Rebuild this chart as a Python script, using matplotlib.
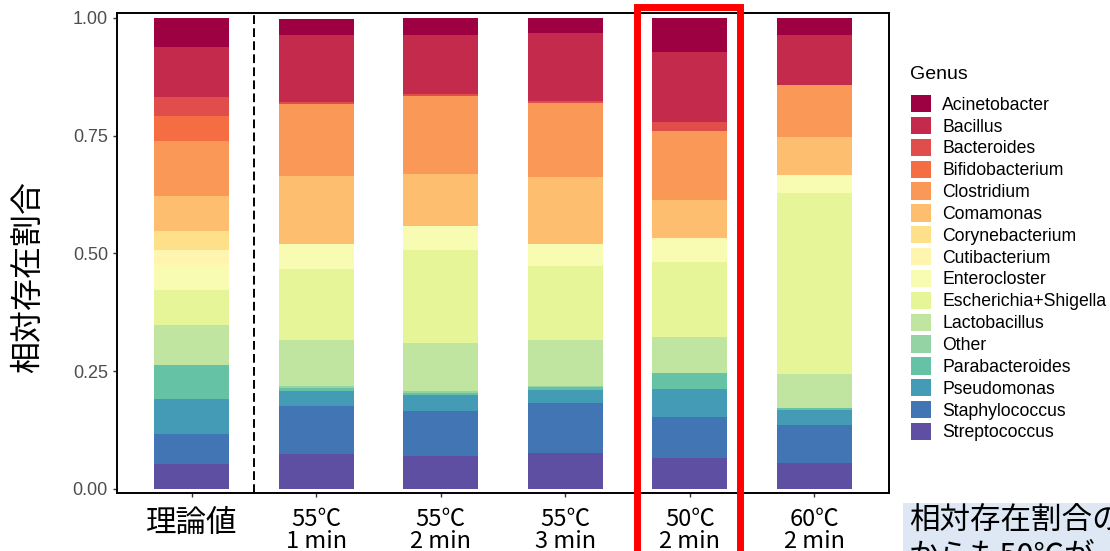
import matplotlib
matplotlib.use("Agg")
import matplotlib.pyplot as plt
from matplotlib.patches import Patch, Rectangle
from matplotlib.transforms import blended_transform_factory
import numpy as np

# genus order = legend order (top of stack first)
genera = ["Acinetobacter", "Bacillus", "Bacteroides", "Bifidobacterium",
          "Clostridium", "Comamonas", "Corynebacterium", "Cutibacterium",
          "Enterocloster", "Escherichia+Shigella", "Lactobacillus", "Other",
          "Parabacteroides", "Pseudomonas", "Staphylococcus", "Streptococcus"]

samples = ["理論値", "55℃\n1 min", "55℃\n2 min", "55℃\n3 min", "50℃\n2 min", "60℃\n2 min"]

# relative abundance per sample, same order as genera
theory = [0.062, 0.106, 0.040, 0.053, 0.117, 0.074, 0.041, 0.032,
          0.053, 0.0745, 0.085, 0.0, 0.072, 0.074, 0.064, 0.053]
t55_1 = [0.034, 0.142, 0.005, 0.0, 0.152, 0.145, 0.0, 0.0,
         0.053, 0.151, 0.097, 0.005, 0.006, 0.032, 0.102, 0.074]
t55_2 = [0.037, 0.125, 0.003, 0.0, 0.167, 0.109, 0.0, 0.0,
         0.051, 0.199, 0.102, 0.004, 0.003, 0.034, 0.096, 0.070]
t55_3 = [0.032, 0.145, 0.003, 0.0, 0.158, 0.142, 0.0, 0.0,
         0.047, 0.157, 0.097, 0.003, 0.006, 0.027, 0.107, 0.076]
t50_2 = [0.072, 0.149, 0.019, 0.0, 0.146, 0.081, 0.0, 0.004,
         0.047, 0.159, 0.077, 0.0, 0.034, 0.059, 0.087, 0.066]
t60_2 = [0.036, 0.106, 0.0, 0.0, 0.111, 0.080, 0.0, 0.0,
         0.039, 0.384, 0.072, 0.0, 0.004, 0.032, 0.081, 0.055]

colors = ["#9E0142", "#C32A4B", "#DF4E4B", "#F46D43", "#FA9857", "#FDBF6F",
          "#FEE08B", "#FFF5AE", "#F7FCB2", "#E6F598", "#BFE5A0", "#94D4A4",
          "#66C2A5", "#439BB5", "#4175B4", "#5E4FA2"]

data = np.array([theory, t55_1, t55_2, t55_3, t50_2, t60_2])  # samples x genera
x = np.arange(1, len(samples) + 1)

fig = plt.figure(figsize=(11.1, 5.51), dpi=100)
ax = fig.add_axes([117/1110, 58/551, 772/1110, 480/551])

# stack from the bottom: Streptococcus first
bottom = np.zeros(len(samples))
for j in range(len(genera) - 1, -1, -1):
    ax.bar(x, data[:, j], bottom=bottom, width=0.6, color=colors[j], linewidth=0)
    bottom += data[:, j]

ax.axvline(1.5, color="black", linestyle=(0, (4.5, 2.2)), linewidth=1.4)

ax.set_xlim(0.4, 6.6)
ax.set_ylim(-0.0085, 1.0105)
ax.set_yticks([0, 0.25, 0.5, 0.75, 1.0])
ax.set_yticklabels(["0.00", "0.25", "0.50", "0.75", "1.00"],
                   fontsize=13, color="#4D4D4D", family="Liberation Sans")
ax.tick_params(axis="both", length=3, width=1, color="#333333")
ax.set_xticks(x)
ax.set_xticklabels(samples, family=["Noto Sans CJK JP", "DejaVu Sans"],
                   fontsize=17, linespacing=0.95, va="top")
ax.tick_params(axis="x", pad=8)
ax.get_xticklabels()[0].set_fontsize(22)
for s in ax.spines.values():
    s.set_linewidth(1.4)
    s.set_color("black")

ax.set_ylabel("相対存在割合", family="Noto Sans CJK JP", fontsize=23)
ax.yaxis.set_label_coords(-0.095, 0.45)

handles = [Patch(facecolor=c, edgecolor="none") for c in colors]
fig.text(910/1110, 1 - 66/551, "Genus", family="Liberation Sans", fontsize=14,
         va="top", ha="left")
fig.legend(handles, genera, loc="upper left", bbox_to_anchor=(911/1110, 1 - 95/551),
           frameon=False, handlelength=1.14, handleheight=1.14, labelspacing=0.18,
           handletextpad=0.62, borderpad=0, borderaxespad=0,
           prop={"family": "Liberation Sans", "size": 12.7})

# red highlight box around the 50℃ bar
tr = blended_transform_factory(ax.transData, fig.transFigure)
fig.patches.append(Rectangle((4.58, -0.1), 0.82, 1.088, transform=tr, fill=False,
                             edgecolor="#FF0000", linewidth=5, clip_on=False))

# cropped note box at the bottom right
fig.patches.append(Rectangle((903/1110, 0), 207/1110, 48/551, transform=fig.transFigure,
                             facecolor="#DDE8F4", edgecolor="none"))
fig.text(909/1110, 1 - 505/551, "相対存在割合の\nからも50℃が", family="Noto Sans CJK JP",
         fontsize=22, va="top", ha="left", linespacing=1.2)

fig.savefig("out.png", dpi=100)
